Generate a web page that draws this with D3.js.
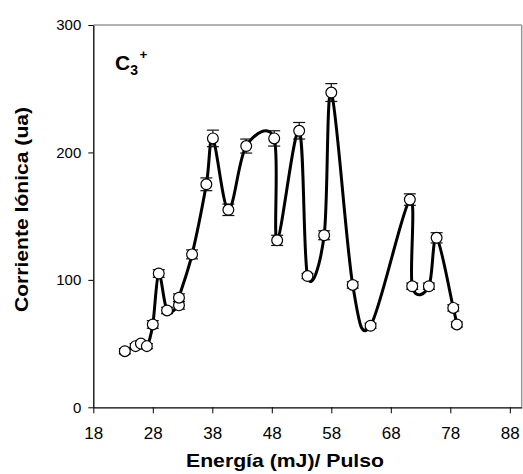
<!DOCTYPE html>
<html><head><meta charset="utf-8">
<script src="https://cdn.jsdelivr.net/npm/d3@7"></script>
<style>body{margin:0;background:#fff;} svg{display:block;}</style>
</head><body>
<svg id="c" width="523" height="474"></svg>
<script>
const energy = [23.3,25.1,26.0,27.0,28.0,29.0,30.4,32.4,32.4,34.6,37.0,38.1,40.7,43.7,48.4,48.9,52.6,54.0,56.8,58.0,61.6,64.6,71.2,71.6,74.4,75.7,78.5,79.1];
const current = [44,48,50,48,65,105,76,80,86,120,175,211,155,205,211,131,217,103,135,247,96,64,163,95,95,133,78,65];
const errors = [2,2,2,2,3,3,2.5,3,3,3.5,5,6.5,4.5,5.5,6,4,6.5,2,3.5,7,2.5,2,4.5,2.5,2.5,4,2.5,2];
const xTicks = [18,28,38,48,58,68,78,88];
const yTicks = [0,100,200,300];

const svg = d3.select("#c");
const L = 93.3, R = 521.7, T = 25, B = 407.3;
const x = d3.scaleLinear().domain([18,90]).range([L,R]);
const y = d3.scaleLinear().domain([0,300]).range([B,T]);
const font = "Arial, 'Liberation Sans', sans-serif";

// frame top & right
svg.append("line").attr("x1",L).attr("x2",R).attr("y1",T).attr("y2",T).attr("stroke","#999").attr("stroke-width",1.5);
svg.append("line").attr("x1",R).attr("x2",R).attr("y1",T).attr("y2",B).attr("stroke","#999").attr("stroke-width",1.5);

const xa = svg.append("g").attr("transform",`translate(0,${B})`)
  .call(d3.axisBottom(x).tickValues(xTicks).tickSize(6).tickSizeOuter(0).tickPadding(14));
const ya = svg.append("g").attr("transform",`translate(${L},0)`)
  .call(d3.axisLeft(y).tickValues(yTicks).tickSize(5).tickSizeOuter(0).tickPadding(7));
[xa,ya].forEach(a=>{
  a.select(".domain").attr("stroke","#000").attr("stroke-width",1.3);
  a.selectAll(".tick line").attr("stroke","#000");
  a.selectAll("text").attr("font-family",font).attr("fill","#000");
});
xa.selectAll("text").attr("font-size",17);
ya.selectAll("text").attr("font-size",15);

// line
const pts = energy.map((e,i)=>[e,current[i]]);
svg.append("path").datum(pts)
  .attr("d", d3.line().x(d=>x(d[0])).y(d=>y(d[1])).curve(d3.curveCatmullRom.alpha(0)))
  .attr("fill","none").attr("stroke","#000").attr("stroke-width",3);

// error bars
const eb = svg.append("g").attr("stroke","#111").attr("stroke-width",1.2);
pts.forEach((d,i)=>{
  const cx = x(d[0]);
  eb.append("line").attr("x1",cx).attr("x2",cx).attr("y1",y(d[1]-errors[i])).attr("y2",y(d[1]+errors[i]));
  [d[1]-errors[i], d[1]+errors[i]].forEach(v=>{
    eb.append("line").attr("x1",cx-6).attr("x2",cx+6).attr("y1",y(v)).attr("y2",y(v));
  });
});

// markers
svg.append("g").selectAll("circle").data(pts).join("circle")
  .attr("cx",d=>x(d[0])).attr("cy",d=>y(d[1])).attr("r",5.4)
  .attr("fill","#fff").attr("stroke","#000").attr("stroke-width",1.2);

// C3+
const lab = svg.append("text").attr("x",115).attr("y",70).attr("font-family",font).attr("font-weight","bold").attr("font-size",21);
lab.append("tspan").text("C");
lab.append("tspan").attr("font-size",14).attr("dy",5).text("3");
lab.append("tspan").attr("font-size",13.5).attr("dy",-16).attr("dx",1.5).text("+");

svg.append("text").attr("x",285).attr("y",467).attr("text-anchor","middle")
  .attr("font-family",font).attr("font-weight","bold").attr("font-size",19)
  .attr("textLength",198).attr("lengthAdjust","spacingAndGlyphs").text("Energía (mJ)/ Pulso");
svg.append("text").attr("transform","translate(28,209.5) rotate(-90)").attr("text-anchor","middle")
  .attr("font-family",font).attr("font-weight","bold").attr("font-size",19)
  .attr("textLength",205).attr("lengthAdjust","spacingAndGlyphs").text("Corriente Iónica (ua)");
</script>
</body></html>
